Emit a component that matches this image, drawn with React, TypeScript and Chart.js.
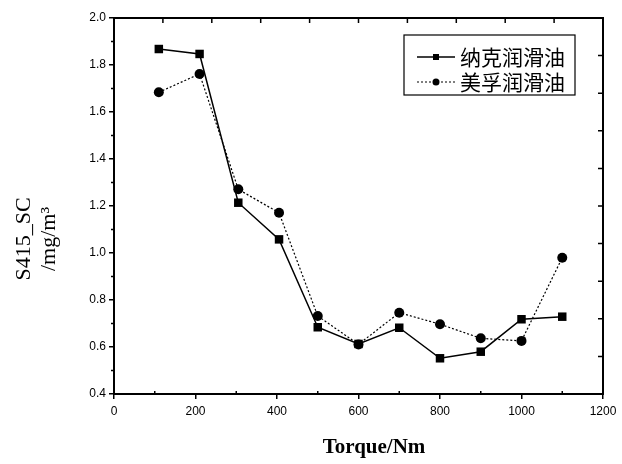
import React, { useEffect, useRef } from 'react';
import { Chart, registerables } from 'chart.js';

Chart.register(...registerables);

const torque = [110, 210, 305, 405, 500, 600, 700, 800, 900, 1000, 1100];
const nakeOil = [1.868, 1.847, 1.214, 1.058, 0.684, 0.613, 0.682, 0.552, 0.58, 0.718, 0.729];
const mobilOil = [1.684, 1.762, 1.271, 1.171, 0.732, 0.611, 0.746, 0.697, 0.637, 0.626, 0.98];
const seriesNames = ['纳克润滑油', '美孚润滑油'];
const xTicks = [0, 200, 400, 600, 800, 1000, 1200];
const yTicks = [0.4, 0.6, 0.8, 1.0, 1.2, 1.4, 1.6, 1.8, 2.0];
const xMinorTicks = [100, 300, 500, 700, 900, 1100];
const yMinorTicks = [0.5, 0.7, 0.9, 1.1, 1.3, 1.5, 1.7, 1.9];
const xTitle = 'Torque/Nm';
const yTitle = ['S415_SC', '/mg/m³'];

const framePlugin = {
  id: 'frame',
  afterDraw(chart: any) {
    const { ctx, chartArea } = chart;
    const { left, right, top, bottom } = chartArea;
    const xs = chart.scales.x;
    const ys = chart.scales.y;
    ctx.save();
    ctx.strokeStyle = '#000';
    ctx.lineWidth = 2;
    ctx.strokeRect(left, top, right - left, bottom - top);
    ctx.lineWidth = 1.5;
    ctx.beginPath();
    const w = right - left;
    const h = bottom - top;
    for (let i = 1; i < 10; i++) {
      const x = left + (i * w) / 10;
      ctx.moveTo(x, top);
      ctx.lineTo(x, top + 5);
      const y = top + (i * h) / 10;
      ctx.moveTo(right, y);
      ctx.lineTo(right - 5, y);
    }
    for (const v of xMinorTicks) {
      const px = xs.getPixelForValue(v);
      ctx.moveTo(px, bottom);
      ctx.lineTo(px, bottom - 3);
    }
    for (const v of yMinorTicks) {
      const py = ys.getPixelForValue(v);
      ctx.moveTo(left - 3, py);
      ctx.lineTo(left, py);
    }
    ctx.stroke();

    // axis titles
    ctx.fillStyle = '#000';
    ctx.textAlign = 'center';
    ctx.textBaseline = 'middle';
    ctx.font = 'bold 21px "Liberation Serif"';
    ctx.fillText(xTitle, 374, 448);
    ctx.font = '22px "Liberation Serif"';
    const titleX = [24, 49];
    yTitle.forEach((t, i) => {
      ctx.save();
      ctx.translate(titleX[i], 239);
      ctx.rotate(-Math.PI / 2);
      ctx.fillText(t, 0, 0);
      ctx.restore();
    });

    // legend
    const bx = 404, by = 35, bw = 171, bh = 60;
    ctx.fillStyle = '#fff';
    ctx.fillRect(bx, by, bw, bh);
    ctx.lineWidth = 1.2;
    ctx.strokeStyle = '#000';
    ctx.strokeRect(bx, by, bw, bh);
    const rows = [57, 82];
    chart.data.datasets.forEach((ds: any, i: number) => {
      const y = rows[i];
      ctx.save();
      ctx.lineWidth = ds.borderWidth;
      ctx.setLineDash(ds.borderDash || []);
      ctx.beginPath();
      ctx.moveTo(417, y);
      ctx.lineTo(455, y);
      ctx.stroke();
      ctx.restore();
      ctx.fillStyle = '#000';
      if (ds.pointStyle === 'rect') {
        ctx.fillRect(433, y - 3, 6, 6);
      } else {
        ctx.beginPath();
        ctx.arc(436, y, 3.5, 0, Math.PI * 2);
        ctx.fill();
      }
      ctx.font = '21px "Noto Sans CJK SC"';
      ctx.textAlign = 'left';
      ctx.textBaseline = 'middle';
      ctx.fillText(ds.label, 460, y);
    });
    ctx.restore();
  },
};

export default function App() {
  const ref = useRef<HTMLCanvasElement>(null);
  useEffect(() => {
    if (!ref.current) return;
    const tickFont = { family: '"Liberation Sans", Arial, sans-serif', size: 12 };
    const gridOpts = {
      drawOnChartArea: false,
      drawTicks: true,
      tickLength: 5,
      color: '#000',
      lineWidth: 1.5,
    };
    const chart = new Chart(ref.current, {
      type: 'line',
      data: {
        datasets: [
          {
            label: seriesNames[0],
            data: torque.map((x, i) => ({ x, y: nakeOil[i] })),
            borderColor: '#000',
            backgroundColor: '#000',
            borderWidth: 1.5,
            pointStyle: 'rect',
            pointRadius: 6,
            pointBorderWidth: 0,
            fill: false,
          },
          {
            label: seriesNames[1],
            data: torque.map((x, i) => ({ x, y: mobilOil[i] })),
            borderColor: '#000',
            backgroundColor: '#000',
            borderWidth: 1.2,
            borderDash: [2, 2],
            pointStyle: 'circle',
            pointRadius: 5,
            pointBorderWidth: 0,
            fill: false,
          },
        ],
      },
      options: {
        animation: false,
        responsive: false,
        devicePixelRatio: 1,
        layout: { padding: { top: 18, right: 19, left: 0, bottom: 0 } },
        plugins: { legend: { display: false }, tooltip: { enabled: false } },
        scales: {
          x: {
            type: 'linear',
            min: 0,
            max: 1200,
            afterBuildTicks: (s: any) => {
              s.ticks = xTicks.map((v) => ({ value: v }));
            },
            afterFit: (s: any) => {
              s.height = 70;
            },
            ticks: {
              font: tickFont,
              color: '#000',
              padding: 5,
              maxRotation: 0,
              autoSkip: false,
              callback: (v: any) => String(v),
            },
            grid: gridOpts,
            border: { display: false },
          },
          y: {
            type: 'linear',
            min: 0.4,
            max: 2.0,
            afterBuildTicks: (s: any) => {
              s.ticks = yTicks.map((v) => ({ value: v }));
            },
            afterFit: (s: any) => {
              s.width = 114;
            },
            ticks: {
              font: tickFont,
              color: '#000',
              padding: 3,
              autoSkip: false,
              callback: (v: any) => Number(v).toFixed(1),
            },
            grid: gridOpts,
            border: { display: false },
          },
        },
      },
      plugins: [framePlugin],
    });
    return () => chart.destroy();
  }, []);
  return (
    <div style={{ position: 'absolute', left: 0, top: 0, width: 622, height: 464, background: '#fff' }}>
      <canvas ref={ref} width={622} height={464} />
    </div>
  );
}
